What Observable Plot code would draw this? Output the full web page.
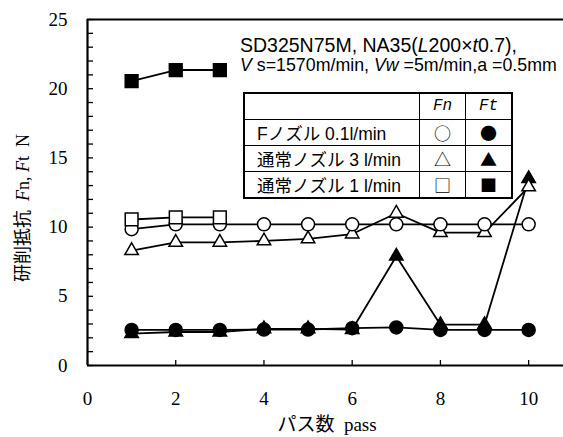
<!DOCTYPE html>
<html><head><meta charset="utf-8">
<script src="https://cdn.jsdelivr.net/npm/d3@7"></script>
<script src="https://cdn.jsdelivr.net/npm/@observablehq/plot@0.6"></script>
<style>
body{margin:0;background:#fff;}
#wrap{position:relative;width:563px;height:437px;overflow:hidden;}
.ov{position:absolute;white-space:nowrap;color:#000;}
.note{font-family:"Liberation Sans",Arial,sans-serif;left:240px;line-height:20px;}
.note i{font-style:italic;}
#legend{position:absolute;left:243px;top:92px;border-collapse:collapse;border:2px solid #000;background:#fff;
  font-family:"Liberation Sans","Noto Sans CJK JP",sans-serif;font-size:17.5px;}
#legend td{border:1.5px solid #000;padding:0;height:25px;}
#legend td.lab{width:162px;padding-left:12px;}
#legend td.sym{width:45px;text-align:center;font-family:"Noto Sans CJK JP";font-size:17px;line-height:17px;}
#legend td.hd{font-family:"Liberation Mono",monospace;font-style:italic;font-size:16px;text-align:center;}
#ylab{font-family:"Liberation Serif","Noto Sans CJK JP",serif;font-size:18px;line-height:20px;left:23px;top:208px;transform:translate(-50%,-50%) rotate(-90deg);}
#xlab{font-family:"Liberation Serif","Noto Sans CJK JP",serif;font-size:19px;line-height:20px;left:327px;top:425px;transform:translate(-50%,-50%);}
</style></head>
<body>
<div id="wrap">
<div id="chart"></div>
<div class="ov note" style="top:35px;font-size:19.5px">SD325N75M, NA35(<i>L</i>200×<i>t</i>0.7),</div>
<div class="ov note" style="top:55px;font-size:17.8px"><i>V</i> s=1570m/min, <i>Vw</i> =5m/min,a =0.5mm</div>
<table id="legend">
<tr style="height:23px"><td class="lab"></td><td class="sym hd">Fn</td><td class="sym hd">Ft</td></tr>
<tr><td class="lab">Fノズル 0.1l/min</td><td class="sym">○</td><td class="sym">●</td></tr>
<tr><td class="lab">通常ノズル 3 l/min</td><td class="sym">△</td><td class="sym">▲</td></tr>
<tr><td class="lab">通常ノズル 1 l/min</td><td class="sym">□</td><td class="sym">■</td></tr>
</table>
<div class="ov" id="ylab">研削抵抗 &nbsp;<i>F</i>n, <i>F</i>t &nbsp;N</div>
<div class="ov" id="xlab">パス数 &nbsp;pass</div>
</div>
<script>
const passes = [1, 2, 3, 4, 5, 6, 7, 8, 9, 10];
const passes1 = [1, 2, 3];
const fnF = [9.85, 10.2, 10.2, 10.2, 10.2, 10.2, 10.2, 10.2, 10.2, 10.2];
const ftF = [2.57, 2.57, 2.57, 2.6, 2.6, 2.7, 2.75, 2.57, 2.57, 2.57];
const fn3 = [8.3, 8.9, 8.9, 9.0, 9.15, 9.5, 11.0, 9.6, 9.6, 12.9];
const ft3 = [2.3, 2.42, 2.42, 2.65, 2.65, 2.6, 7.9, 2.95, 2.95, 13.5];
const fn1 = [10.55, 10.7, 10.7];
const ft1 = [20.55, 21.35, 21.35];
const xTicks = [0, 2, 4, 6, 8, 10];
const yTicks = [0, 5, 10, 15, 20, 25];
const yMinor = d3.range(0, 26, 1);

const rows = (xs, ys) => xs.map((x, i) => ({x, y: ys[i]}));
const lineOpt = {x: "x", y: "y", stroke: "black", strokeWidth: 1.8};
const series = [
  {d: rows(passes, ft3), symbol: "triangle", fill: "black", r: 5},
  {d: rows(passes, fn3), symbol: "triangle", fill: "white", r: 5},
  {d: rows(passes, ftF), symbol: "circle", fill: "black", r: 6.5},
  {d: rows(passes, fnF), symbol: "circle", fill: "white", r: 6.5},
  {d: rows(passes1, fn1), symbol: "square", fill: "white", r: 7.2},
  {d: rows(passes1, ft1), symbol: "square", fill: "black", r: 7.2}
];

const chart = Plot.plot({
  width: 563, height: 437,
  marginLeft: 87, marginRight: 0, marginTop: 19, marginBottom: 72,
  x: {domain: [0, 10.79]},
  y: {domain: [0, 25]},
  style: {fontFamily: "Liberation Serif, serif", fontSize: "19px", color: "black", background: "white"},
  marks: [
    Plot.axisY(yTicks, {tickSize: 0, tickPadding: 20, label: null, fontSize: 19}),
    Plot.axisY(yMinor, {tickSize: -6, tickFormat: () => "", label: null, strokeWidth: 1.3}),
    Plot.axisX(xTicks, {tickSize: 0, tickPadding: 26, label: null, fontSize: 19}),
    Plot.axisX(xTicks, {tickSize: -5, tickFormat: () => "", label: null, strokeWidth: 1.3}),
    Plot.ruleY([0], {strokeWidth: 2.2}),
    Plot.ruleY([25], {strokeWidth: 2}),
    Plot.ruleX([0], {strokeWidth: 2.2}),
    ...series.map(s => Plot.line(s.d, lineOpt)),
    ...series.map(s => Plot.dot(s.d, {x: "x", y: "y", symbol: s.symbol, r: s.r, fill: s.fill, stroke: "black", strokeWidth: 1.5}))
  ]
});
document.getElementById("chart").appendChild(chart);
</script>
</body></html>
